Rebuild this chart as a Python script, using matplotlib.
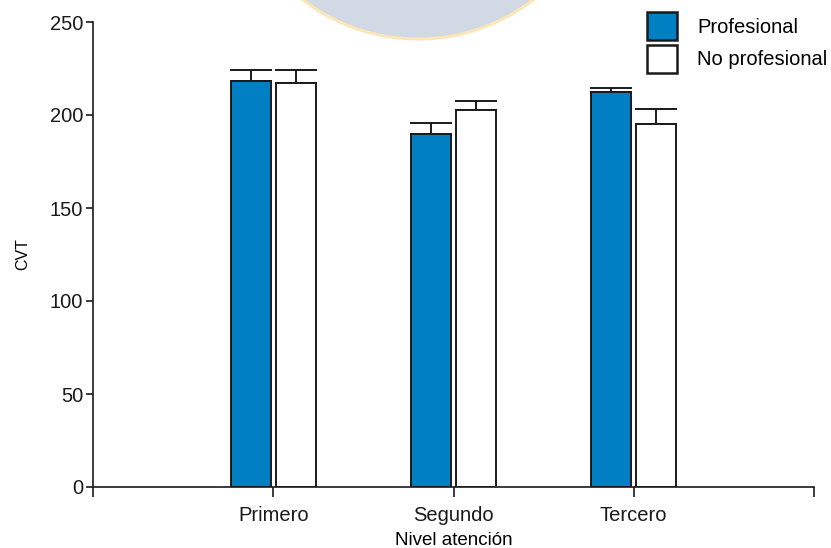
import matplotlib

matplotlib.use("Agg")

import matplotlib.pyplot as plt
import numpy as np
from matplotlib.patches import Ellipse

plt.rcParams["font.family"] = ["Liberation Sans", "DejaVu Sans"]

niveles = ["Primero", "Segundo", "Tercero"]
profesional = [218.3, 189.8, 212.2]
profesional_err = [5.9, 5.7, 2.3]
no_profesional = [217.4, 202.7, 195.0]
no_profesional_err = [6.8, 4.8, 8.2]

BLUE = "#0080C3"
INK = "#1a1a1a"

W, H = 831, 548
fig = plt.figure(figsize=(W / 100, H / 100), dpi=100)

# faint seal in the page background
seal = Ellipse(
    (418 / W, 1 + 150 / H),
    2 * 189 / W,
    2 * 189 / H,
    transform=fig.transFigure,
    facecolor="#D0D9E4",
    edgecolor="#FCE6B8",
    linewidth=2.2,
    zorder=0,
)
fig.patches.append(seal)

ax = fig.add_axes([93 / W, 61 / H, (814 - 93) / W, 465 / H])
ax.patch.set_alpha(0)

x = np.arange(len(niveles))
width = 0.22
offset = 0.125

ax.bar(
    x - offset,
    profesional,
    width,
    color=BLUE,
    edgecolor=INK,
    linewidth=1.4,
    label="Profesional",
    zorder=3,
)
ax.bar(
    x + offset,
    no_profesional,
    width,
    color="white",
    edgecolor=INK,
    linewidth=1.4,
    label="No profesional",
    zorder=3,
)

# upper-only error bars
for xs, vals, errs in [
    (x - offset, profesional, profesional_err),
    (x + offset, no_profesional, no_profesional_err),
]:
    ax.errorbar(
        xs,
        vals,
        yerr=[np.zeros(len(errs)), errs],
        fmt="none",
        ecolor=INK,
        elinewidth=1.4,
        capsize=15,
        capthick=1.4,
        zorder=2,
    )

ax.set_xlim(-1, 3)
ax.set_ylim(0, 250)
ax.set_yticks([0, 50, 100, 150, 200, 250])
ax.set_xticks([-1, 0, 1, 2, 3])
ax.set_xticklabels([""] + niveles + [""])

for side in ["top", "right"]:
    ax.spines[side].set_visible(False)
for side in ["left", "bottom"]:
    ax.spines[side].set_linewidth(1.2)
    ax.spines[side].set_color(INK)

ax.tick_params(axis="y", length=5, width=1.2, labelsize=14.5, pad=2, colors=INK)
ax.tick_params(axis="x", length=7, width=1.2, labelsize=14.5, pad=7, colors=INK)

ax.set_ylabel("CVT", fontsize=11.5, labelpad=14)
ax.set_xlabel("Nivel atención", fontsize=13.5, labelpad=5)

leg = ax.legend(
    loc="upper left",
    bbox_to_anchor=(647 / W, 1 - 12 / H),
    bbox_transform=fig.transFigure,
    frameon=False,
    fontsize=14.5,
    handlelength=1.5,
    handleheight=1.8,
    handletextpad=1.0,
    labelspacing=0.2,
    borderpad=0,
    borderaxespad=0,
)
for handle in leg.legend_handles:
    handle.set_linewidth(1.8)

fig.savefig("out.png", dpi=100)
